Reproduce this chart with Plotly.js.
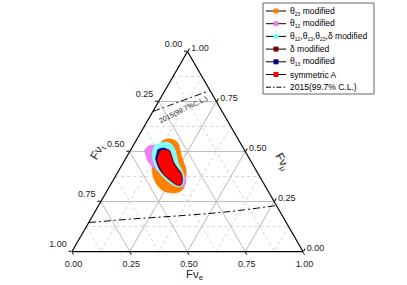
<!DOCTYPE html>
<html><head><meta charset="utf-8">
<script src="https://cdn.plot.ly/plotly-3.0.1.min.js"></script>
<style>html,body{margin:0;padding:0;background:#fff;}#chart{width:407px;height:285px;}</style>
</head><body><div id="chart"></div>
<script>
// ---------- data (flavour fractions) ----------
const orangeFe   = [0.112,0.128,0.159,0.190,0.213,0.236,0.263,0.289,0.309,0.325,0.316,0.285,0.244,0.204,0.168,0.140,0.128,0.114,0.107];
const orangeFmu  = [0.552,0.563,0.560,0.540,0.510,0.477,0.443,0.410,0.368,0.315,0.298,0.293,0.303,0.331,0.369,0.413,0.443,0.477,0.518];
const orangeFtau = [0.336,0.309,0.281,0.270,0.277,0.287,0.294,0.301,0.323,0.360,0.386,0.422,0.453,0.465,0.463,0.447,0.429,0.409,0.375];

const violetFe   = [0.062,0.064,0.085,0.123,0.158,0.192,0.223,0.258,0.292,0.318,0.322,0.303,0.271,0.230,0.184,0.132,0.093];
const violetFmu  = [0.502,0.523,0.532,0.530,0.518,0.493,0.460,0.418,0.385,0.352,0.327,0.323,0.335,0.360,0.393,0.427,0.460];
const violetFtau = [0.436,0.413,0.383,0.347,0.324,0.315,0.317,0.324,0.323,0.330,0.351,0.374,0.394,0.410,0.423,0.441,0.447];

const cyanFe   = [0.092,0.109,0.137,0.164,0.191,0.215,0.239,0.270,0.297,0.312,0.306,0.283,0.244,0.198,0.154,0.119,0.098];
const cyanFmu  = [0.527,0.543,0.547,0.535,0.510,0.477,0.443,0.410,0.377,0.340,0.323,0.327,0.347,0.380,0.418,0.460,0.497];
const cyanFtau = [0.381,0.348,0.316,0.301,0.299,0.308,0.318,0.320,0.326,0.348,0.371,0.390,0.409,0.422,0.428,0.421,0.405];

const deltaFe   = [0.123,0.140,0.167,0.192,0.217,0.249,0.281,0.303,0.305,0.285,0.243,0.196,0.162,0.135];
const deltaFmu  = [0.502,0.512,0.507,0.480,0.447,0.417,0.388,0.352,0.330,0.333,0.357,0.390,0.423,0.460];
const deltaFtau = [0.375,0.348,0.326,0.328,0.336,0.334,0.331,0.345,0.365,0.382,0.400,0.414,0.415,0.405];

const th13Fe   = [0.116,0.130,0.153,0.176,0.199,0.230,0.264,0.288,0.289,0.273,0.233,0.187,0.152,0.127];
const th13Fmu  = [0.507,0.517,0.513,0.490,0.457,0.423,0.393,0.360,0.343,0.347,0.368,0.402,0.435,0.468];
const th13Ftau = [0.377,0.353,0.334,0.334,0.344,0.347,0.343,0.352,0.368,0.380,0.399,0.411,0.413,0.405];

const symFe   = [0.130,0.142,0.166,0.189,0.214,0.246,0.278,0.299,0.300,0.284,0.244,0.199,0.165,0.139];
const symFmu  = [0.497,0.507,0.502,0.477,0.443,0.413,0.385,0.352,0.335,0.338,0.360,0.393,0.427,0.460];
const symFtau = [0.373,0.351,0.332,0.334,0.343,0.341,0.337,0.349,0.365,0.378,0.396,0.408,0.408,0.401];

// 2015 (99.7% C.L.) boundaries
const clUpFe   = [0.000,0.065,0.130,0.195];
const clUpFmu  = [0.700,0.735,0.770,0.805];
const clUpFtau = [0.300,0.200,0.100,0.000];
const clLoFe   = [0.000,0.183,0.391,0.584,0.770];
const clLoFmu  = [0.145,0.163,0.180,0.200,0.230];
const clLoFtau = [0.855,0.654,0.429,0.216,0.000];

// axes
const majorVals = [0, 0.25, 0.5, 0.75, 1];
const tickText  = ['1.00','0.75','0.50','0.25','0.00'];
const minorVals = [0.125, 0.375, 0.625, 0.875];

// legend
const SUB = s => '<sub><span style="font-size:5px">' + s + '</span></sub>';
const legendNames = [
  'θ' + SUB('23') + ' modified',
  'θ' + SUB('12') + ' modified',
  'θ' + SUB('12') + ',θ' + SUB('13') + ',θ' + SUB('23') + ',δ modified',
  'δ modified',
  'θ' + SUB('13') + ' modified',
  'symmetric A',
  '2015(99.7% C.L.)'
];
const legendColors = ['#FF8000','#F07CF0','#80FFFF','#800000','#000080','#FF0000', null];

// ---------- traces ----------
const FONT = '"Liberation Sans", Arial, Helvetica, sans-serif';
const traces = [];

// minor dotted grid
(function(){
  const a=[],b=[],c=[];
  minorVals.forEach(v=>{
    a.push(v,v,null); b.push(1-v,0,null); c.push(0,1-v,null);
    b.push(v,v,null); a.push(1-v,0,null); c.push(0,1-v,null);
    c.push(v,v,null); a.push(1-v,0,null); b.push(0,1-v,null);
  });
  traces.push({type:'scatterternary',mode:'lines',a:a,b:b,c:c,
    line:{color:'#c9c9c9',width:0.8,dash:'dot'},hoverinfo:'skip',showlegend:false});
})();

function region(fe,fmu,ftau,color){
  return {type:'scatterternary',mode:'lines',a:fmu,b:ftau,c:fe,fill:'toself',
    fillcolor:color,line:{color:color,width:0.5,shape:'spline'},hoverinfo:'skip',showlegend:false};
}
traces.push(region(orangeFe,orangeFmu,orangeFtau,legendColors[0]));
traces.push(region(violetFe,violetFmu,violetFtau,legendColors[1]));
traces.push(region(cyanFe,cyanFmu,cyanFtau,legendColors[2]));
traces.push(region(deltaFe,deltaFmu,deltaFtau,legendColors[3]));
traces.push(region(th13Fe,th13Fmu,th13Ftau,legendColors[4]));
traces.push(region(symFe,symFmu,symFtau,legendColors[5]));

[[clUpFe,clUpFmu,clUpFtau],[clLoFe,clLoFmu,clLoFtau]].forEach(d=>{
  traces.push({type:'scatterternary',mode:'lines',a:d[1],b:d[2],c:d[0],
    line:{color:'#000',width:1,dash:'7px,3px,2px,3px',shape:'spline'},hoverinfo:'skip',showlegend:false});
});

// ---------- layout ----------
const W=407,H=285,ML=72,MR=104,MT=51,MB=33;
const PW=W-ML-MR, PH=H-MT-MB;
const px=x=>(x-ML)/PW, py=y=>(H-MB-y)/PH;

function axis(text){
  return {tickvals:majorVals,ticktext:text||tickText,ticks:'outside',ticklen:3,tickwidth:1,tickcolor:'#000',
    linecolor:'#000',linewidth:1.2,showline:true,showgrid:true,gridcolor:'#bdbdbd',gridwidth:1,
    tickfont:{family:FONT,size:9,color:'#222'},title:{text:''},layer:'above traces'};
}
// left-edge labels sit a little above their ticks, as in the reference
const leftText = tickText.map(t => t + '<br> ');

const shapes=[], annotations=[];
// legend box
shapes.push({type:'rect',xref:'paper',yref:'paper',x0:px(263),x1:px(374),y0:py(3),y1:py(94),
  line:{color:'#666',width:1},fillcolor:'#fff',layer:'above'});
legendNames.forEach((name,i)=>{
  const yc=11+i*12.7;
  shapes.push({type:'line',xref:'paper',yref:'paper',x0:px(266),x1:px(286),y0:py(yc),y1:py(yc),
    line:{color:'#000',width:1,dash:legendColors[i]?'solid':'5px,2px,1.5px,2px'},layer:'above'});
  if(legendColors[i]){
    shapes.push({type:'rect',xref:'paper',yref:'paper',x0:px(273.5),x1:px(278.5),y0:py(yc-2.5),y1:py(yc+2.5),
      line:{width:0},fillcolor:legendColors[i],layer:'above'});
  }
  annotations.push({xref:'paper',yref:'paper',x:px(288),y:py(yc),xanchor:'left',yanchor:'middle',
    text:name,showarrow:false,font:{family:FONT,size:8.5,color:'#000'}});
});

// axis titles
annotations.push({xref:'paper',yref:'paper',x:px(195),y:py(275),text:'Fν<sub>e</sub>',showarrow:false,
  font:{family:FONT,size:11.5,color:'#222'},xanchor:'center',yanchor:'middle'});
annotations.push({xref:'paper',yref:'paper',x:px(98),y:py(152),text:'Fν<sub>τ</sub>',showarrow:false,
  textangle:-60,font:{family:FONT,size:11.5,color:'#222'},xanchor:'center',yanchor:'middle'});
annotations.push({xref:'paper',yref:'paper',x:px(282),y:py(162),text:'Fν<sub>μ</sub>',showarrow:false,
  textangle:60,font:{family:FONT,size:11.5,color:'#222'},xanchor:'center',yanchor:'middle'});
// C.L. label
annotations.push({xref:'paper',yref:'paper',x:px(183),y:py(110),text:'2015(99.7%C.L.)',showarrow:false,
  textangle:-26,font:{family:FONT,size:7,color:'#222'},xanchor:'center',yanchor:'middle'});

const layout={
  width:W,height:H,margin:{l:ML,r:MR,t:MT,b:MB,pad:0},
  paper_bgcolor:'#fff',plot_bgcolor:'#fff',showlegend:false,
  font:{family:FONT,size:9,color:'#222'},
  ternary:{sum:1,bgcolor:'rgba(0,0,0,0)',domain:{x:[0,1],y:[0,1]},
    aaxis:axis(leftText),baxis:axis(),caxis:axis()},
  shapes:shapes,annotations:annotations
};
Plotly.newPlot('chart',traces,layout,{staticPlot:true,displayModeBar:false});
</script></body></html>
